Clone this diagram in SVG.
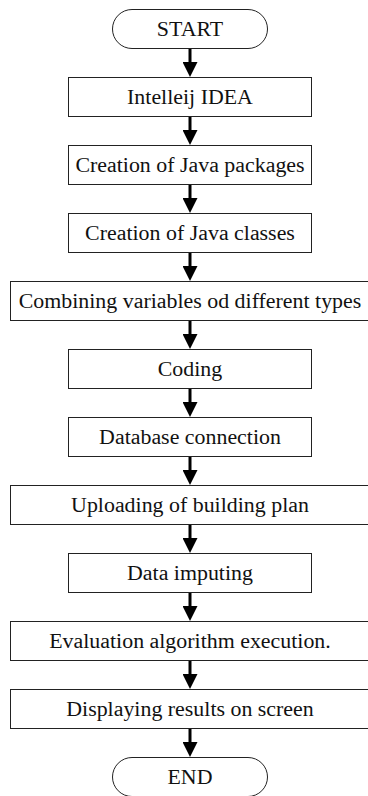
<svg xmlns="http://www.w3.org/2000/svg" width="368" height="796" viewBox="0 0 368 796">
<defs>
<marker id="ah" markerUnits="userSpaceOnUse" markerWidth="15" markerHeight="15" viewBox="0 0 15 15" refX="0" refY="7.5" orient="auto">
<path d="M0,0 L15,7.5 L0,15 z" fill="#000"/>
</marker>
<style>
.b{fill:#fff;stroke:#222;stroke-width:1}
.t{font-family:"Liberation Serif","Times New Roman",serif;font-size:20px;fill:#111;text-anchor:middle}
.c{stroke:#000;stroke-width:3;fill:none}
</style>
</defs>
<rect width="368" height="796" fill="#fff"/>
<g id="connectors">
<line class="c" x1="190" y1="49" x2="190" y2="62" marker-end="url(#ah)"/>
<line class="c" x1="190" y1="117" x2="190" y2="130" marker-end="url(#ah)"/>
<line class="c" x1="190" y1="185" x2="190" y2="198" marker-end="url(#ah)"/>
<line class="c" x1="190" y1="253" x2="190" y2="266" marker-end="url(#ah)"/>
<line class="c" x1="190" y1="321" x2="190" y2="334" marker-end="url(#ah)"/>
<line class="c" x1="190" y1="389" x2="190" y2="402" marker-end="url(#ah)"/>
<line class="c" x1="190" y1="457" x2="190" y2="470" marker-end="url(#ah)"/>
<line class="c" x1="190" y1="525" x2="190" y2="538" marker-end="url(#ah)"/>
<line class="c" x1="190" y1="593" x2="190" y2="606" marker-end="url(#ah)"/>
<line class="c" x1="190" y1="661" x2="190" y2="674" marker-end="url(#ah)"/>
<line class="c" x1="190" y1="729" x2="190" y2="742" marker-end="url(#ah)"/>
</g>
<g id="start"><rect class="b" x="112.5" y="9.5" width="155" height="39" rx="19.5"/><text class="t" x="173.52" y="36" transform="scale(1.095 1)">START</text></g>
<g id="n1"><rect class="b" x="68.5" y="77.5" width="243" height="39"/><text class="t" x="173.52" y="104" transform="scale(1.095 1)">Intelleij IDEA</text></g>
<g id="n2"><rect class="b" x="68.5" y="145.5" width="243" height="39"/><text class="t" x="173.52" y="172" transform="scale(1.095 1)">Creation of Java packages</text></g>
<g id="n3"><rect class="b" x="68.5" y="213.5" width="243" height="39"/><text class="t" x="173.52" y="240" transform="scale(1.095 1)">Creation of Java classes</text></g>
<g id="n4"><rect class="b" x="10.5" y="281.5" width="360" height="39"/><text class="t" x="173.52" y="308" transform="scale(1.095 1)">Combining variables od different types</text></g>
<g id="n5"><rect class="b" x="68.5" y="349.5" width="243" height="39"/><text class="t" x="173.52" y="376" transform="scale(1.095 1)">Coding</text></g>
<g id="n6"><rect class="b" x="68.5" y="417.5" width="243" height="39"/><text class="t" x="173.52" y="444" transform="scale(1.095 1)">Database connection</text></g>
<g id="n7"><rect class="b" x="10.5" y="485.5" width="360" height="39"/><text class="t" x="173.52" y="512" transform="scale(1.095 1)">Uploading of building plan</text></g>
<g id="n8"><rect class="b" x="68.5" y="553.5" width="243" height="39"/><text class="t" x="173.52" y="580" transform="scale(1.095 1)">Data imputing</text></g>
<g id="n9"><rect class="b" x="10.5" y="621.5" width="360" height="39"/><text class="t" x="173.52" y="648" transform="scale(1.095 1)">Evaluation algorithm execution.</text></g>
<g id="n10"><rect class="b" x="10.5" y="689.5" width="360" height="39"/><text class="t" x="173.52" y="716" transform="scale(1.095 1)">Displaying results on screen</text></g>
<g id="end"><rect class="b" x="112.5" y="757.5" width="155" height="39" rx="19.5"/><text class="t" x="173.52" y="784" transform="scale(1.095 1)">END</text></g>
</svg>
